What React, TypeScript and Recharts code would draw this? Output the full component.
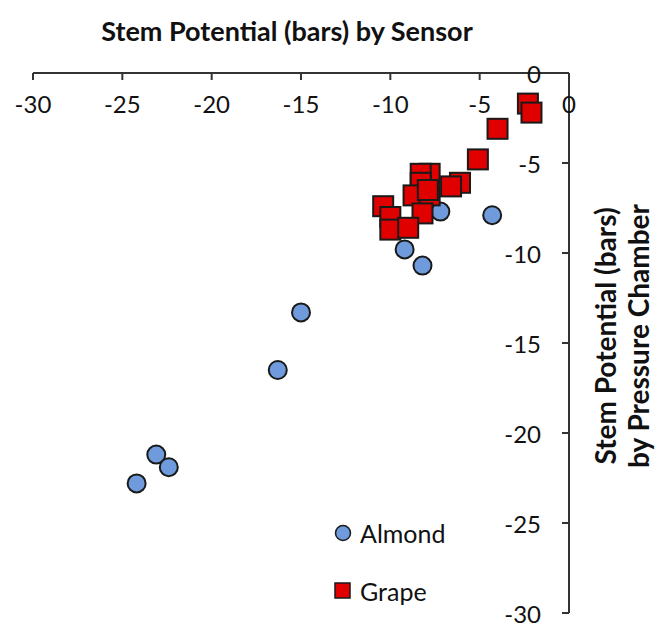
import { ScatterChart, Scatter, XAxis, YAxis, Legend } from "recharts";

const FONT = "Lato, 'Open Sans', sans-serif";

// sensor reading (x) vs pressure chamber reading (y), bars
const almondX = [-15.0, -16.3, -23.1, -22.4, -24.2, -7.2, -4.3, -9.2, -8.2];
const almondY = [-13.3, -16.5, -21.2, -21.9, -22.8, -7.7, -7.9, -9.8, -10.7];

const grapeX = [-2.3, -2.1, -4.0, -5.1, -6.1, -6.6, -7.8, -8.3, -8.3, -8.7, -7.8, -7.9, -8.2, -10.4, -10.0, -10.0, -9.0];
const grapeY = [-1.7, -2.2, -3.1, -4.8, -6.1, -6.3, -5.6, -5.6, -6.1, -6.8, -6.8, -6.5, -7.8, -7.4, -8.0, -8.7, -8.6];

const xTicks = [-30, -25, -20, -15, -10, -5, 0];
const yTicks = [0, -5, -10, -15, -20, -25, -30];

const almond = almondX.map((x, i) => ({ x, y: almondY[i] }));
const grape = grapeX.map((x, i) => ({ x, y: grapeY[i] }));

const AXIS = "#333";
const BLUE = "#6f9bdc";
const RED = "#e00000";

const XTick = ({ x, y, payload }: any) => (
  <g>
    <line x1={x} y1={y} x2={x} y2={y + 7} stroke={AXIS} strokeWidth={2} />
    <text x={x} y={y + 30} textAnchor="middle" dominantBaseline="central" fontFamily={FONT} fontSize={24} fill="#111">
      {payload.value}
    </text>
  </g>
);

const YTick = ({ x, y, payload }: any) => (
  <g>
    <line x1={x - 7} y1={y} x2={x} y2={y} stroke={AXIS} strokeWidth={2} />
    <text x={x - 28} y={y} textAnchor="end" dominantBaseline="central" fontFamily={FONT} fontSize={24} fill="#111">
      {payload.value}
    </text>
  </g>
);

const Dot = ({ cx, cy }: any) => <circle cx={cx} cy={cy} r={9} fill={BLUE} stroke="#1a1a1a" strokeWidth={2} />;
const Square = ({ cx, cy }: any) => (
  <rect x={cx - 10} y={cy - 10} width={20} height={20} fill={RED} stroke="#1a1a1a" strokeWidth={2} />
);

const LegendBox = () => (
  <div style={{ fontFamily: FONT, fontSize: 25, color: "#111" }}>
    <div style={{ display: "flex", alignItems: "center", height: 36 }}>
      <svg width={18} height={18} style={{ marginRight: 8 }}>
        <circle cx={9} cy={9} r={7.5} fill={BLUE} stroke="#1a1a1a" strokeWidth={1.5} />
      </svg>
      Almond
    </div>
    <div style={{ display: "flex", alignItems: "center", height: 36, marginTop: 22 }}>
      <svg width={18} height={18} style={{ marginRight: 8 }}>
        <rect x={1} y={1} width={15} height={15} fill={RED} stroke="#1a1a1a" strokeWidth={1.5} />
      </svg>
      Grape
    </div>
  </div>
);

export default function App() {
  return (
    <div style={{ position: "absolute", left: 0, top: 0, width: 656, height: 627, background: "#fff" }}>
      <ScatterChart width={656} height={627} margin={{ top: 72, right: 86, bottom: 14, left: 33 }}>
        <XAxis
          type="number"
          dataKey="x"
          orientation="top"
          domain={[-30, 0]}
          ticks={xTicks}
          height={1}
          tickSize={0}
          tickMargin={0}
          tick={<XTick />}
          axisLine={{ stroke: AXIS, strokeWidth: 2 }}
          tickLine={false}
        />
        <YAxis
          type="number"
          dataKey="y"
          orientation="right"
          domain={[-30, 0]}
          ticks={yTicks}
          width={1}
          tickSize={0}
          tickMargin={0}
          tick={<YTick />}
          axisLine={{ stroke: AXIS, strokeWidth: 2 }}
          tickLine={false}
        />
        <Legend
          layout="vertical"
          align="center"
          verticalAlign="middle"
          content={<LegendBox />}
          wrapperStyle={{ position: "absolute", left: 334, top: 515, width: 160 }}
        />
        <Scatter name="Almond" data={almond} shape={<Dot />} isAnimationActive={false} />
        <Scatter name="Grape" data={grape} shape={<Square />} isAnimationActive={false} />
        <text x={287} y={30} textAnchor="middle" dominantBaseline="central" fontFamily={FONT} fontSize={27} fontWeight="bold" fill="#111">
          Stem Potential (bars) by Sensor
        </text>
        <text transform="translate(605,336) rotate(-90)" textAnchor="middle" dominantBaseline="central" fontFamily={FONT} fontSize={28} fontWeight="bold" fill="#111">
          Stem Potential (bars)
        </text>
        <text transform="translate(638,336) rotate(-90)" textAnchor="middle" dominantBaseline="central" fontFamily={FONT} fontSize={28} fontWeight="bold" fill="#111">
          by Pressure Chamber
        </text>
      </ScatterChart>
    </div>
  );
}
